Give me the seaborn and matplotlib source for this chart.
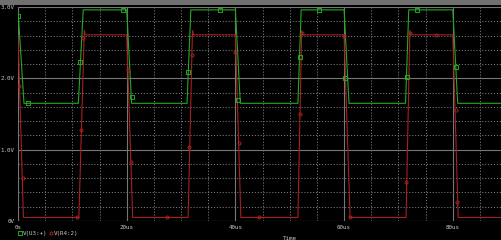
import numpy as np
import pandas as pd
import matplotlib
matplotlib.use("Agg")
import matplotlib.pyplot as plt
from matplotlib.lines import Line2D
from matplotlib.patches import Rectangle
import seaborn as sns

# ---------------- data (time in us, voltage in V) ----------------
green_t = [0.0, 1.1, 11.1, 12.0, 20.0, 20.9, 31.1, 31.8, 40.0, 40.9,
           51.5, 52.1, 60.0, 60.9, 71.3, 71.9, 80.0, 80.9, 90.0]
green_v = [2.96, 1.65, 1.65, 2.96, 2.96, 1.65, 1.65, 2.96, 2.96, 1.65,
           1.65, 2.96, 2.96, 1.65, 1.65, 2.96, 2.96, 1.65, 1.65]

red_t = [0.0, 1.0, 11.2, 12.2, 12.4, 20.0, 21.1, 31.3, 32.1, 32.3, 40.0, 41.0,
         51.5, 52.2, 52.4, 60.0, 61.1, 71.4, 72.1, 72.3, 80.0, 81.0, 90.0]
red_v = [2.61, 0.05, 0.05, 2.67, 2.61, 2.61, 0.05, 0.05, 2.67, 2.61, 2.61, 0.05,
         0.05, 2.67, 2.61, 2.61, 0.05, 0.05, 2.67, 2.61, 2.61, 0.05, 0.05]

green_mk_t = [0.0, 1.84, 11.4, 19.3, 21.0, 31.3, 37.2, 40.5, 51.8, 55.4, 60.2, 71.5, 73.5, 80.6]
green_mk_v = [2.88, 1.65, 2.23, 2.96, 1.74, 2.09, 2.96, 1.70, 2.30, 2.96, 2.00, 2.02, 2.96, 2.16]

red_mk_t = [0.24, 0.86, 10.8, 11.5, 11.98, 20.3, 20.7, 27.5, 31.5, 31.96, 40.0, 40.6,
            44.4, 51.8, 52.2, 60.0, 61.1, 71.4, 72.1, 76.9, 80.5, 80.8]
red_mk_v = [1.89, 0.60, 0.05, 1.28, 2.56, 2.12, 0.83, 0.05, 1.04, 2.33, 2.37, 1.10,
            0.05, 1.50, 2.63, 2.60, 0.05, 0.55, 2.63, 2.61, 1.55, 0.27]

x_ticks = [0, 20, 40, 60, 80]
x_labels = ["0s", "20us", "40us", "60us", "80us"]
y_ticks = [0, 1, 2, 3]
y_labels = ["0V", "1.0V", "2.0V", "3.0V"]
series_names = ["V(U3:+)", "V(R4:2)"]

GREEN = "#22aa22"
RED = "#a82020"
GRID = "#767676"
TXT = "#c8c8c8"

W, H = 501, 240
sns.set_style("dark")
plt.rcParams["font.family"] = ["DejaVu Sans Mono", "DejaVu Sans"]

fig = plt.figure(figsize=(W / 100, H / 100), dpi=100, facecolor="black")
ax = fig.add_axes([18 / W, 19 / H, 543.5 / W, 214 / H])
ax.set_facecolor("black")

gdf = pd.DataFrame({"t": green_t, "v": green_v})
rdf = pd.DataFrame({"t": red_t, "v": red_v})
sns.lineplot(data=gdf, x="t", y="v", ax=ax, color=GREEN, lw=0.8, zorder=3)
sns.lineplot(data=rdf, x="t", y="v", ax=ax, color=RED, lw=0.8, zorder=4)
ax.plot(green_mk_t, green_mk_v, ls="none", marker="s", ms=2.6, mfc="none",
        mec=GREEN, mew=0.7, zorder=5)
ax.plot(red_mk_t, red_mk_v, ls="none", marker="o", ms=2.2, mfc="none",
        mec=RED, mew=0.7, zorder=5)

ax.set_xlim(0, 100)
ax.set_ylim(0, 3)
ax.set_xticks(x_ticks + [100])
ax.set_xticklabels(x_labels + [""])
ax.set_xticks(np.arange(0, 101, 5), minor=True)
ax.set_yticks(y_ticks)
ax.set_yticklabels(y_labels)
ax.set_yticks(np.arange(0, 3.01, 0.2), minor=True)

ax.set_axisbelow(True)
ax.grid(which="major", color=GRID, lw=0.8, ls="-")
ax.grid(which="minor", color=GRID, lw=0.7, ls=(0, (1.2, 1.8)))
for s in ax.spines.values():
    s.set_visible(False)
ax.tick_params(which="minor", length=0)
ax.tick_params(axis="x", which="major", length=0, pad=3, labelsize=4.2, colors=TXT)
ax.tick_params(axis="y", which="major", length=2, width=0.8, color=GRID, pad=0.6,
               labelsize=4.2, labelcolor=TXT)
ax.set_xlabel("Time", fontsize=4.2, color=TXT)
ax.xaxis.set_label_coords(0.5, -17 / 214)
ax.xaxis.label.set_va("center")
ax.set_ylabel("")

# top window band
fig.add_artist(Rectangle((0, 1 - 4.5 / H), 1, 4.5 / H, transform=fig.transFigure,
                         facecolor="#707070", edgecolor="none"))

# legend (bottom-left)
ly = 1 - 233 / H
fig.add_artist(Line2D([20 / W], [ly], transform=fig.transFigure, ls="none",
                      marker="s", ms=2.6, mfc="none", mec=GREEN, mew=0.7))
fig.text(23 / W, ly, series_names[0], fontsize=4.2, color=TXT, va="center", ha="left")
fig.add_artist(Line2D([51 / W], [ly], transform=fig.transFigure, ls="none",
                      marker="o", ms=2.2, mfc="none", mec=RED, mew=0.7))
fig.text(54 / W, ly, series_names[1], fontsize=4.2, color=TXT, va="center", ha="left")

fig.savefig("out.png", dpi=100, facecolor="black")
